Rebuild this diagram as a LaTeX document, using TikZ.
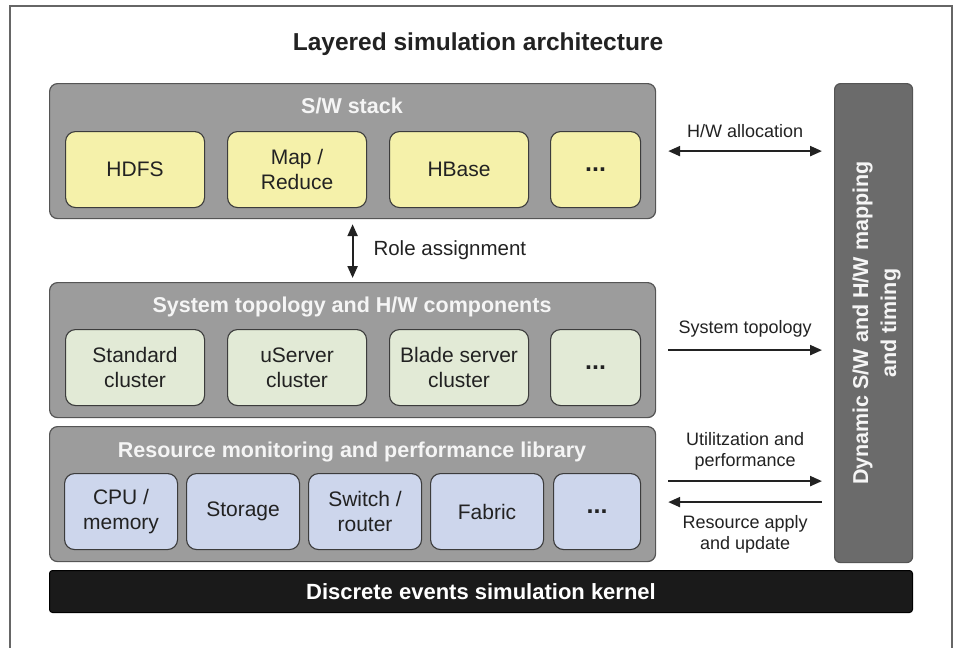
\documentclass[tikz,border=0pt]{standalone}
\usepackage{fontspec}
\setmainfont{Liberation Sans}
\usetikzlibrary{arrows.meta,calc}
\definecolor{panelfill}{HTML}{9C9C9C}
\definecolor{panelline}{HTML}{555555}
\definecolor{dynfill}{HTML}{6B6B6B}
\definecolor{kernelfill}{HTML}{1A1A1A}
\definecolor{yellowfill}{HTML}{F5F1AA}
\definecolor{greenfill}{HTML}{E2EAD6}
\definecolor{bluefill}{HTML}{CDD6EC}
\definecolor{boxline}{HTML}{3C3C3C}
\definecolor{textdark}{HTML}{222222}
\definecolor{titlewhite}{HTML}{F5F5F5}
\definecolor{framecol}{HTML}{666666}
\newcommand{\mydots}{{\fontsize{25}{25}\selectfont\bfseries ...}}
\tikzset{
  panel/.style={draw=panelline, fill=panelfill, line width=1.2pt, rounded corners=8pt, anchor=north west, inner sep=0pt, minimum width=606pt, minimum height=135pt},
  ptitle/.style={text=titlewhite, font=\fontsize{21.5}{24}\selectfont\bfseries},
  cbox/.style={draw=boxline, line width=1.1pt, rounded corners=10pt, anchor=north west, inner sep=0pt, align=center, font=\fontsize{21}{25}\selectfont, text=textdark, minimum height=76pt},
  ybox/.style={cbox, fill=yellowfill},
  gbox/.style={cbox, fill=greenfill},
  bbox/.style={cbox, fill=bluefill},
  lbl/.style={font=\fontsize{18}{21.5}\selectfont, text=textdark, align=center},
  arr/.style={line width=2.2pt, draw=textdark, -{Triangle[length=12pt,width=10pt]}},
  larr/.style={line width=2.2pt, draw=textdark, {Triangle[length=12pt,width=10pt]}-},
  darr/.style={line width=2.2pt, draw=textdark, {Triangle[length=12pt,width=10pt]}-{Triangle[length=12pt,width=10pt]}},
}
\begin{document}
\begin{tikzpicture}[x=1pt,y=-1pt]
\useasboundingbox (0,0) rectangle (956,648);
\fill[white] (0,0) rectangle (956,648);
\draw[framecol, line width=1.5pt] (10,652) -- (10,6) -- (952,6) -- (952,652);

\node[font=\fontsize{24.5}{28}\selectfont\bfseries, text=textdark] (title) at (478,44) {Layered simulation architecture};

% S/W stack
\node[panel] (sw) at (49,83) {};
\node[ptitle] (swt) at (352,106) {S/W stack};
\node[ybox, minimum width=139pt] (hdfs) at (65,131) {HDFS};
\node[ybox, minimum width=139pt] (mr) at (227,131) {Map /\\Reduce};
\node[ybox, minimum width=139pt] (hbase) at (389,131) {HBase};
\node[ybox, minimum width=90pt] (swd) at (550,131) {\mydots};

% System topology
\node[panel] (st) at (49,282) {};
\node[ptitle] (stt) at (352,307) {System topology and H/W components};
\node[gbox, minimum width=139pt] (std) at (65,329) {Standard\\cluster};
\node[gbox, minimum width=139pt] (us) at (227,329) {uServer\\cluster};
\node[gbox, minimum width=139pt] (bl) at (389,329) {Blade server\\cluster};
\node[gbox, minimum width=90pt] (std2) at (550,329) {\mydots};

% Resource monitoring
\node[panel] (rm) at (49,426) {};
\node[ptitle] (rmt) at (352,452) {Resource monitoring and performance library};
\node[bbox, minimum width=113pt] (cpu) at (64,473) {CPU /\\memory};
\node[bbox, minimum width=113pt] (sto) at (186,473) {Storage};
\node[bbox, minimum width=113pt] (swi) at (308,473) {Switch /\\router};
\node[bbox, minimum width=113pt] (fab) at (430,473) {Fabric};
\node[bbox, minimum width=87pt] (rmd) at (553,473) {\mydots};

% kernel
\node[draw=black, fill=kernelfill, line width=1pt, rounded corners=3pt, anchor=north west, minimum width=863pt, minimum height=42pt, inner sep=0pt, text=white, font=\fontsize{22}{25}\selectfont\bfseries] (kern) at (49,570) {Discrete events simulation kernel};

% Dynamic
\node[draw=panelline, fill=dynfill, line width=1.2pt, rounded corners=6pt, anchor=north west, minimum width=78pt, minimum height=479pt, inner sep=0pt] (dyn) at (834,83) {};
\node[rotate=90, align=center, text=titlewhite, font=\fontsize{21.5}{28}\selectfont\bfseries] (dynt) at ($(dyn.center)+(3,0)$) {Dynamic S/W and H/W mapping\\and timing};

% arrows
\coordinate (a1s) at ($(sw.east)+(12,0)$);
\coordinate (a1e) at ($(sw.east -| dyn.west)+(-12,0)$);
\draw[darr] (a1s) -- (a1e);
\node[lbl] (l1) at ($(a1s)!0.5!(a1e)+(0,-20)$) {H/W allocation};

\draw[darr, shorten <=5pt, shorten >=4pt] (sw.south) -- (st.north);
\node[lbl, anchor=west, font=\fontsize{20.5}{24}\selectfont] (lra) at (370,250) {Role assignment};

\coordinate (a2s) at ($(st.east)+(12,0)$);
\coordinate (a2e) at ($(st.east -| dyn.west)+(-12,0)$);
\draw[arr] (a2s) -- (a2e);
\node[lbl] (l2) at ($(a2s)!0.5!(a2e)+(0,-21)$) {System topology};

\coordinate (a3s) at ($(rm.east)+(12,-13)$);
\coordinate (a3e) at ($(rm.east -| dyn.west)+(-12,-13)$);
\draw[arr] (a3s) -- (a3e);
\node[lbl] (l3) at ($(a3s)!0.5!(a3e)+(0,-30)$) {Utilitzation and\\performance};

\coordinate (a4s) at ($(rm.east)+(12,8)$);
\coordinate (a4e) at ($(rm.east -| dyn.west)+(-12,8)$);
\draw[larr] (a4s) -- (a4e);
\node[lbl] (l4) at ($(a4s)!0.5!(a4e)+(0,32)$) {Resource apply\\and update};
\end{tikzpicture}
\end{document}
